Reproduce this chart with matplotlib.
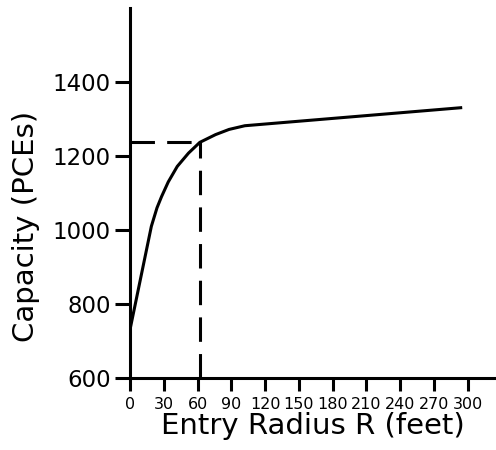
import numpy as np
import matplotlib
matplotlib.use("Agg")
import matplotlib.pyplot as plt

# values
radius = [0, 19, 24, 28, 34, 42, 52, 62, 76, 88, 102, 295]
capacity = [730, 1010, 1060, 1090, 1130, 1172, 1208, 1237, 1258, 1272, 1282, 1331]
design_r = 62
design_c = 1237
xticks = [0, 30, 60, 90, 120, 150, 180, 210, 240, 270, 300]
yticks = [600, 800, 1000, 1200, 1400]

plt.rcParams['font.family'] = ['DejaVu Sans']

fig = plt.figure(figsize=(4.96, 4.5), dpi=100)
ax = fig.add_axes([0.262, 0.16, 0.738, 0.822])

ax.plot(radius, capacity, color="black", linewidth=2.2, solid_capstyle="butt")
ax.plot([0, design_r], [design_c, design_c], color="black", linewidth=2.2, dashes=[8, 4])
ax.plot([design_r, design_r], [600, design_c], color="black", linewidth=2.2, dashes=[8, 4])

ax.set_xlim(0, 325)
ax.set_ylim(600, 1600)
ax.set_xticks(xticks)
ax.set_yticks(yticks)
ax.tick_params(axis="x", labelsize=11.5, length=9, width=2.2, pad=5)
ax.tick_params(axis="y", labelsize=16.5, length=11, width=2.2, pad=3)

for s in ["top", "right"]:
    ax.spines[s].set_visible(False)
for s in ["left", "bottom"]:
    ax.spines[s].set_linewidth(2.2)

ax.set_xlabel("Entry Radius R (feet)", fontsize=21, labelpad=0)
ax.set_ylabel("Capacity (PCEs)", fontsize=21, labelpad=4)
ax.yaxis.set_label_coords(-0.245, 0.41)

fig.savefig("out.png", dpi=100)
